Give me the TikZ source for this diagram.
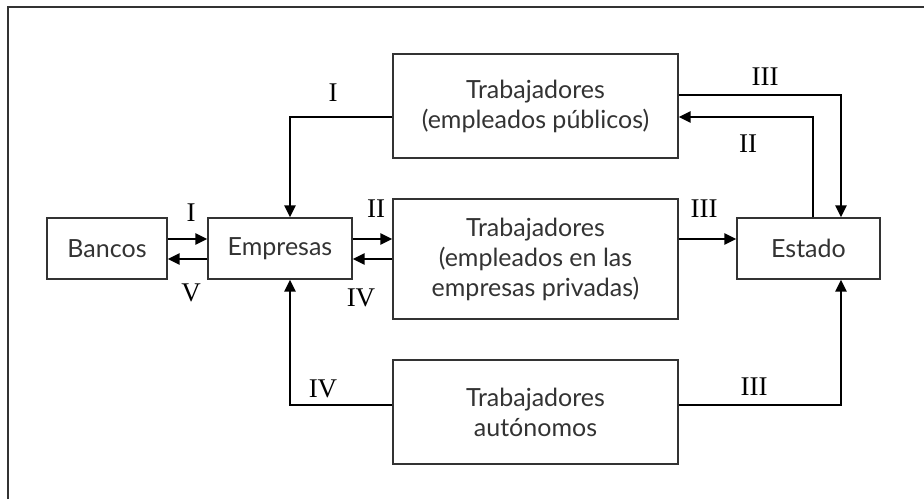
\documentclass[tikz,border=0pt]{standalone}
\usepackage{fontspec}
\setmainfont{Lato}
\newfontfamily\numfont{Liberation Serif}
\usetikzlibrary{arrows.meta, positioning}
\definecolor{frame_gray}{HTML}{333333}

\tikzset{
  box/.style={draw=frame_gray, line width=1.4pt, inner sep=0pt, align=center,
    text=frame_gray, font=\fontsize{25}{30}\selectfont},
  flow/.style={line width=2.9pt, -{Triangle[length=12pt,width=11pt]}},
  num/.style={font=\numfont\fontsize{27}{27}\selectfont}
}

\begin{document}
\begin{tikzpicture}[x=1pt,y=-1pt,line join=miter]
	\useasboundingbox (0,0) rectangle (924,499);
	% frame
	\draw[frame_gray, line width=2pt] (7.5,499) -- (7.5,7) -- (924,7);

	% boxes
	\node[box, minimum width=120pt, minimum height=61pt] (bancos) at (107,248.5) {Bancos};
	\node[box, minimum width=144pt, minimum height=61pt] (empresas) at (280,248.5) {Empresas};
	\node[box, minimum width=143pt, minimum height=61pt] (estado) at (808.5,248.5) {Estado};
	\node[box, minimum width=285pt, minimum height=104pt] (publicos) at (535.5,106)
		{Trabajadores\\(empleados públicos)};
	\node[box, minimum width=285pt, minimum height=120pt] (privados) at (535.5,259)
		{Trabajadores\\(empleados en las\\empresas privadas)};
	\node[box, minimum width=285pt, minimum height=104pt] (autonomos) at (535.5,412)
		{Trabajadores\\autónomos};

	% flows
	\draw[flow] ([yshift=9.5pt]bancos.east) -- ([yshift=9.5pt]empresas.west);
	\draw[flow] ([yshift=-10.5pt]empresas.west) -- ([yshift=-10.5pt]bancos.east);
	\draw[flow] ([yshift=9.5pt]empresas.east) -- ([yshift=20pt]privados.west);
	\draw[flow] (privados.west) -- ([yshift=-10.5pt]empresas.east);
	\draw[flow] ([yshift=20pt]privados.east) -- ([yshift=9.5pt]estado.west);

	\draw[flow] ([yshift=-11pt]publicos.west) -| ([xshift=10pt]empresas.north);
	\draw[flow] ([yshift=11pt]publicos.east) -| ([xshift=32.5pt]estado.north);
	\draw[flow] ([xshift=4.5pt]estado.north) |- ([yshift=-11pt]publicos.east);
	\draw[flow] ([yshift=7pt]autonomos.west) -| ([xshift=10pt]empresas.south);
	\draw[flow] ([yshift=7pt]autonomos.east) -| ([xshift=32.5pt]estado.south);

	% labels
	\node[num] (l1) at (333,93) {I};
	\node[num] (l2) at (765,77) {III};
	\node[num] (l3) at (748,144) {II};
	\node[num] (l4) at (191,213) {I};
	\node[num] (l5) at (191,293) {V};
	\node[num] (l6) at (376,209) {II};
	\node[num] (l7) at (361,298) {IV};
	\node[num] (l8) at (704,209) {III};
	\node[num] (l9) at (323,389) {IV};
	\node[num] (l10) at (754,387) {III};
\end{tikzpicture}
\end{document}
